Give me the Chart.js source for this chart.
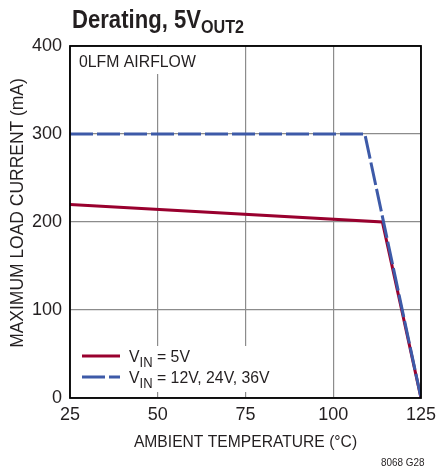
<!DOCTYPE html>
<html lang="en">
<head>
    <meta charset="UTF-8">
    <title>Derating, 5VOUT2</title>
    <style>
        body { margin: 0; background: #fff; }
        #wrap { width: 436px; height: 470px; }
    </style>
</head>
<body>
    <div id="wrap"><canvas id="chart" width="436" height="470"></canvas></div>

    <script src="https://cdn.jsdelivr.net/npm/chart.js@4.4.1/dist/chart.umd.js"></script>
    <script>
        // data
        const tempVin5 = [25, 114, 125];
        const currentVin5 = [220, 200, 0];
        const tempVinHigh = [25, 109, 125];
        const currentVinHigh = [300, 300, 0];
        const xTicks = [25, 50, 75, 100, 125];
        const yTicks = [0, 100, 200, 300, 400];

        const FONT = '"Liberation Sans", Arial, sans-serif';
        const TXT = '#231f20';
        const RED = '#99002e';
        const BLUE = '#3d5aa8';

        function pts(xs, ys) {
            return xs.map((x, i) => ({ x: x, y: ys[i] }));
        }

        // narrow text: the reference uses a condensed face, squeeze it sideways
        function narrow(ctx, text, x, y, font, sx) {
            ctx.font = font;
            ctx.save();
            ctx.translate(x, y);
            ctx.scale(sx, 1);
            ctx.fillText(text, 0, 0);
            ctx.restore();
            return ctx.measureText(text).width * sx;
        }

        // text with a lowered subscript part
        function subText(ctx, x, y, parts, sx) {
            parts.forEach(p => {
                x += narrow(ctx, p.t, x, y + (p.dy || 0), p.f, sx);
            });
        }

        const decor = {
            id: 'decor',
            beforeDatasetsDraw(chart) {
                const ctx = chart.ctx;
                const a = chart.chartArea;
                ctx.save();
                ctx.fillStyle = '#fff';
                ctx.fillRect(a.left + 1, a.top + 1, 128, 27);
                ctx.fillRect(a.left + 1, 346, 212, 46);
                ctx.restore();
            },
            afterDraw(chart) {
                const ctx = chart.ctx;
                const a = chart.chartArea;
                ctx.save();
                // frame
                ctx.strokeStyle = '#000';
                ctx.lineWidth = 1.8;
                ctx.strokeRect(a.left, a.top, a.right - a.left, a.bottom - a.top);

                ctx.fillStyle = TXT;
                ctx.textBaseline = 'alphabetic';
                ctx.textAlign = 'left';

                // title
                subText(ctx, 72, 28, [
                    { t: 'Derating, 5V', f: 'bold 26px ' + FONT },
                    { t: 'OUT2', f: 'bold 19px ' + FONT, dy: 5 }
                ], 0.85);

                // airflow note
                narrow(ctx, '0LFM AIRFLOW', 79, 67, '17px ' + FONT, 0.93);

                // legend
                ctx.lineWidth = 3;
                ctx.strokeStyle = RED;
                ctx.beginPath();
                ctx.moveTo(82, 356);
                ctx.lineTo(120, 356);
                ctx.stroke();
                ctx.strokeStyle = BLUE;
                ctx.setLineDash([23, 4]);
                ctx.beginPath();
                ctx.moveTo(82, 377);
                ctx.lineTo(120, 377);
                ctx.stroke();
                ctx.setLineDash([]);
                subText(ctx, 129, 362, [
                    { t: 'V', f: '17px ' + FONT },
                    { t: 'IN', f: '14px ' + FONT, dy: 5 },
                    { t: ' = 5V', f: '17px ' + FONT }
                ], 0.93);
                subText(ctx, 129, 383, [
                    { t: 'V', f: '17px ' + FONT },
                    { t: 'IN', f: '14px ' + FONT, dy: 5 },
                    { t: ' = 12V, 24V, 36V', f: '17px ' + FONT }
                ], 0.93);

                // axis titles
                const xt = 'AMBIENT TEMPERATURE (°C)';
                ctx.font = '17px ' + FONT;
                const xw = ctx.measureText(xt).width * 0.92;
                narrow(ctx, xt, (a.left + a.right) / 2 - xw / 2, 447, '17px ' + FONT, 0.92);

                const yt = 'MAXIMUM LOAD CURRENT (mA)';
                ctx.font = '18px ' + FONT;
                const yw = ctx.measureText(yt).width * 0.97;
                ctx.save();
                ctx.translate(23, 213 + yw / 2);
                ctx.rotate(-Math.PI / 2);
                narrow(ctx, yt, 0, 0, '18px ' + FONT, 0.97);
                ctx.restore();

                // figure code
                narrow(ctx, '8068 G28', 381, 466, '11px ' + FONT, 0.9);
                ctx.restore();
            }
        };

        new Chart(document.getElementById('chart'), {
            type: 'line',
            data: {
                datasets: [
                    {
                        label: 'VIN = 12V, 24V, 36V',
                        data: pts(tempVinHigh, currentVinHigh),
                        borderColor: BLUE,
                        borderWidth: 3,
                        borderDash: [23, 4],
                        pointRadius: 0,
                        fill: false,
                        tension: 0
                    },
                    {
                        label: 'VIN = 5V',
                        data: pts(tempVin5, currentVin5),
                        borderColor: RED,
                        borderWidth: 3,
                        pointRadius: 0,
                        fill: false,
                        tension: 0
                    }
                ]
            },
            options: {
                responsive: false,
                animation: false,
                layout: { padding: { top: 46, right: 15, left: 0, bottom: 0 } },
                plugins: {
                    legend: { display: false },
                    title: { display: false },
                    tooltip: { enabled: false }
                },
                scales: {
                    x: {
                        type: 'linear',
                        min: 25,
                        max: 125,
                        afterBuildTicks: (s) => { s.ticks = xTicks.map(v => ({ value: v })); },
                        afterFit: (s) => { s.height = 72; s.paddingLeft = 0; s.paddingRight = 0; },
                        grid: { color: '#8c8c8c', lineWidth: 1.2, drawTicks: false },
                        border: { display: false },
                        ticks: {
                            color: TXT,
                            padding: 6,
                            font: { family: FONT, size: 18 }
                        }
                    },
                    y: {
                        min: 0,
                        max: 400,
                        afterBuildTicks: (s) => { s.ticks = yTicks.map(v => ({ value: v })); },
                        afterFit: (s) => { s.width = 70; s.paddingTop = 0; s.paddingBottom = 0; },
                        grid: { color: '#8c8c8c', lineWidth: 1.2, drawTicks: false },
                        border: { display: false },
                        ticks: {
                            color: TXT,
                            padding: 8,
                            font: { family: FONT, size: 18 }
                        }
                    }
                }
            },
            plugins: [decor]
        });
    </script>
</body>
</html>
